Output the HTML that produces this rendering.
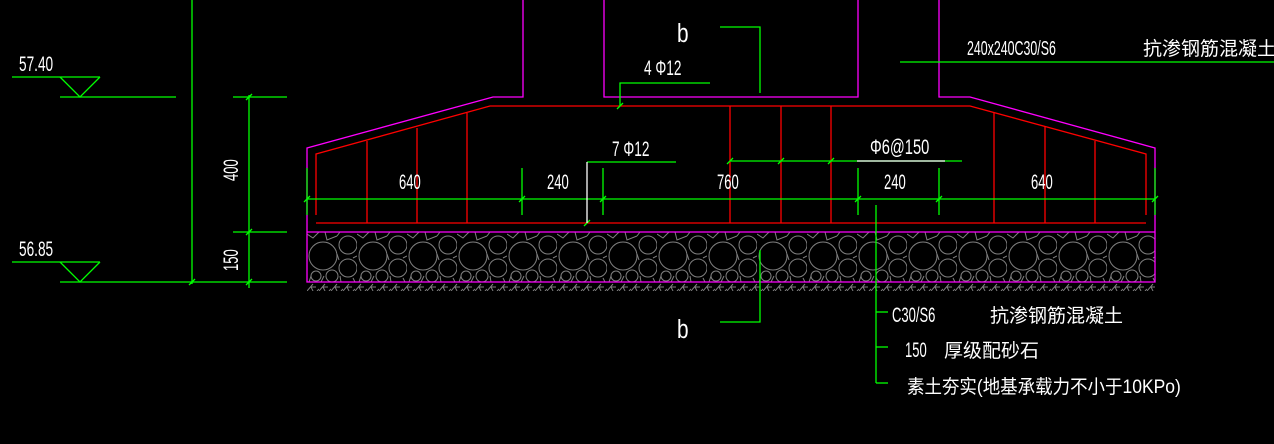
<!DOCTYPE html>
<html><head><meta charset="utf-8"><style>
html,body{margin:0;padding:0;background:#000;width:1274px;height:444px;overflow:hidden}
svg text{font-family:"Liberation Sans","Noto Sans CJK SC",sans-serif;fill:#fff}
</style></head><body>
<svg width="1274" height="444" viewBox="0 0 1274 444" xmlns="http://www.w3.org/2000/svg">
<defs>
<pattern id="grav" x="307" y="232" width="50" height="50" patternUnits="userSpaceOnUse">
<g fill="none" stroke="#808080" stroke-width="1">
<circle cx="16" cy="24" r="14"/><circle cx="41" cy="13" r="9"/><circle cx="41" cy="36" r="9"/>
<circle cx="9" cy="44" r="5"/><circle cx="25" cy="44" r="6"/>
<path d="M0 2 L6 6 L12 0 M18 0 L20 8 L30 4 M33 0 L30 4 M50 24 L46 26 M30 22 L32 28 M2 50 L4 44 M14 50 L17 44 M34 50 L33 44 M48 50 L46 46"/>
</g></pattern>
<pattern id="hat" x="307" y="283" width="12" height="8" patternUnits="userSpaceOnUse">
<path d="M0 8 L6 1 M6 8 L4 4 L9 4 M10 8 L12 6" stroke="#808080" stroke-width="1" fill="none"/>
</pattern>
</defs>
<rect x="307" y="232" width="848" height="50" fill="url(#grav)"/>
<rect x="307" y="283" width="848" height="8" fill="url(#hat)"/>
<g stroke="#ff00ff" stroke-width="1.3" fill="none">
<polyline points="523,0 523,97 493,97 307,148 307,282 1155,282 1155,148 970,97 939,97 939,0"/>
<polyline points="604,0 604,97 858,97 858,0"/>
<line x1="307" y1="232" x2="1155" y2="232"/>
</g>
<g stroke="#ff0000" stroke-width="1.3" fill="none">
<polyline points="316,215 316,154 490,106 970,106 1146,154 1146,215"/>
<line x1="316" y1="223" x2="1146" y2="223"/>
<line x1="367" y1="141" x2="367" y2="223"/><line x1="417" y1="128" x2="417" y2="223"/><line x1="467" y1="113" x2="467" y2="223"/>
<line x1="730" y1="106" x2="730" y2="223"/><line x1="781" y1="106" x2="781" y2="223"/><line x1="831" y1="106" x2="831" y2="223"/>
<line x1="994" y1="113" x2="994" y2="223"/><line x1="1045" y1="127" x2="1045" y2="223"/><line x1="1095" y1="141" x2="1095" y2="223"/>
</g>
<g stroke="#00ff00" stroke-width="1.3" fill="none">
<line x1="307" y1="199" x2="1155" y2="199"/>
<line x1="307" y1="168" x2="307" y2="215"/><line x1="522" y1="168" x2="522" y2="215"/><line x1="603" y1="168" x2="603" y2="215"/>
<line x1="858" y1="168" x2="858" y2="215"/><line x1="939" y1="168" x2="939" y2="215"/><line x1="1155" y1="168" x2="1155" y2="215"/>
<polyline points="676,162 587,162"/>
<line x1="730" y1="161" x2="962" y2="161"/>
<polyline points="710,83 620,83 620,106"/>
<polyline points="720,27 760,27 760,93"/>
<polyline points="760,250 760,322 720,322"/>
<line x1="876" y1="205" x2="876" y2="383"/>
<line x1="876" y1="312" x2="888" y2="312"/><line x1="876" y1="347" x2="888" y2="347"/><line x1="876" y1="383" x2="888" y2="383"/>
<line x1="900" y1="62" x2="1274" y2="62"/>
<line x1="192" y1="0" x2="192" y2="284"/>
<line x1="249" y1="95" x2="249" y2="288"/>
<line x1="233" y1="97" x2="287" y2="97"/><line x1="233" y1="232" x2="287" y2="232"/>
<line x1="60" y1="282" x2="287" y2="282"/>
<line x1="12" y1="77" x2="100" y2="77"/><polyline points="60,77 80,97 100,77"/><line x1="60" y1="97" x2="176" y2="97"/>
<line x1="12" y1="262" x2="100" y2="262"/><polyline points="60,262 80,282 100,262"/>
<!-- ticks -->
<path d="M304 202 L310 196 M519 202 L525 196 M600 202 L606 196 M855 202 L861 196 M936 202 L942 196 M1152 202 L1158 196 M584 226 L590 220 M617 109 L623 103 M727 164 L733 158 M778 164 L784 158 M828 164 L834 158 M246 100 L252 94 M246 235 L252 229 M246 285 L252 279 M189 285 L195 279"/>
</g>
<line x1="587" y1="162" x2="587" y2="223" stroke="#fff" stroke-width="1.3"/>
<line x1="857" y1="161" x2="945" y2="161" stroke="#fff" stroke-width="1.3"/>
<g font-size="21">
<text x="399" y="189" transform="translate(399 0) scale(0.62 1) translate(-399 0)">640</text>
<text x="547" y="189" transform="translate(547 0) scale(0.62 1) translate(-547 0)">240</text>
<text x="717" y="189" transform="translate(717 0) scale(0.62 1) translate(-717 0)">760</text>
<text x="884" y="189" transform="translate(884 0) scale(0.62 1) translate(-884 0)">240</text>
<text x="1031" y="189" transform="translate(1031 0) scale(0.62 1) translate(-1031 0)">640</text>
<text x="612" y="156" transform="translate(612 0) scale(0.65 1) translate(-612 0)">7  Φ12</text>
<text x="644" y="75" transform="translate(644 0) scale(0.65 1) translate(-644 0)">4  Φ12</text>
<text x="870" y="154" transform="translate(870 0) scale(0.7 1) translate(-870 0)">Φ6@150</text>
<text x="19" y="71" transform="translate(19 0) scale(0.65 1) translate(-19 0)">57.40</text>
<text x="19" y="256" transform="translate(19 0) scale(0.65 1) translate(-19 0)">56.85</text>
<text x="0" y="0" transform="translate(238 181) rotate(-90) scale(0.62 1)">400</text>
<text x="0" y="0" transform="translate(238 271) rotate(-90) scale(0.62 1)">150</text>
<text x="967" y="55" font-size="20" transform="translate(967 0) scale(0.62 1) translate(-967 0)">240x240C30/S6</text>
<text x="1143" y="55" font-size="19">抗渗钢筋混凝土柱</text>
<text x="892" y="322" transform="translate(892 0) scale(0.62 1) translate(-892 0)">C30/S6</text>
<text x="990" y="322" font-size="19">抗渗钢筋混凝土</text>
<text x="905" y="357" transform="translate(905 0) scale(0.62 1) translate(-905 0)">150</text>
<text x="944" y="357" font-size="19">厚级配砂石</text>
<text x="907" y="393" font-size="19" transform="translate(907 0) scale(0.92 1) translate(-907 0)">素土夯实(地基承载力不小于10KPo)</text>
</g>
<text x="677" y="42" font-size="26" transform="translate(677 0) scale(0.8 1) translate(-677 0)">b</text>
<text x="677" y="338" font-size="26" transform="translate(677 0) scale(0.8 1) translate(-677 0)">b</text>
</svg>
</body></html>
